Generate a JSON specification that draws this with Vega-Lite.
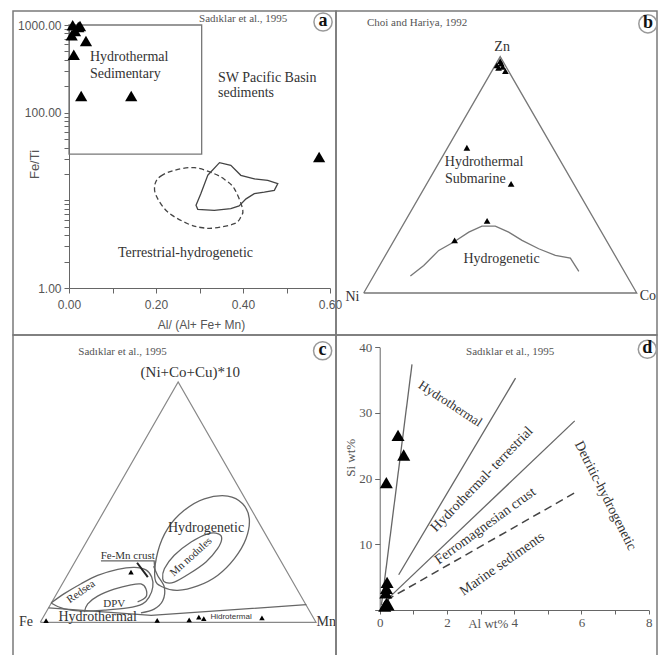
{
  "$schema": "https://vega.github.io/schema/vega-lite/v6.json",
  "padding": {"left": 12, "top": 9, "right": 0, "bottom": 0},
  "background": "white",
  "columns": 2,
  "spacing": 0,
  "bounds": "flush",
  "config": {
    "view": {"stroke": "#7a7a7a", "strokeWidth": 1.5},
    "axis": {"grid": false},
    "text": {"font": "Liberation Serif", "color": "#333"}
  },
  "datasets": {
    "a_box": [{"x": 0, "x2": 0.305, "y": 33.7, "y2": 1000}],
    "a_solid": [
      {"i": 0, "x": 0.319, "y": 19.3}, {"i": 1, "x": 0.346, "y": 26.9}, {"i": 2, "x": 0.372, "y": 25.1},
      {"i": 3, "x": 0.395, "y": 19.3}, {"i": 4, "x": 0.426, "y": 17.6}, {"i": 5, "x": 0.457, "y": 16.9},
      {"i": 6, "x": 0.48, "y": 15.5}, {"i": 7, "x": 0.472, "y": 13.0}, {"i": 8, "x": 0.449, "y": 12.4},
      {"i": 9, "x": 0.426, "y": 11.9}, {"i": 10, "x": 0.407, "y": 10.4}, {"i": 11, "x": 0.391, "y": 8.62},
      {"i": 12, "x": 0.372, "y": 8.03}, {"i": 13, "x": 0.334, "y": 7.69}, {"i": 14, "x": 0.296, "y": 7.9},
      {"i": 15, "x": 0.292, "y": 8.78}, {"i": 16, "x": 0.303, "y": 11.9}
    ],
    "a_dash": [
      {"i": 0, "x": 0.198, "y": 15.5}, {"i": 1, "x": 0.211, "y": 18.9}, {"i": 2, "x": 0.242, "y": 22.0},
      {"i": 3, "x": 0.288, "y": 23.6}, {"i": 4, "x": 0.334, "y": 20.1}, {"i": 5, "x": 0.359, "y": 17.1},
      {"i": 6, "x": 0.38, "y": 13.6}, {"i": 7, "x": 0.399, "y": 8.03}, {"i": 8, "x": 0.395, "y": 6.45},
      {"i": 9, "x": 0.38, "y": 5.41}, {"i": 10, "x": 0.334, "y": 4.83}, {"i": 11, "x": 0.303, "y": 4.9},
      {"i": 12, "x": 0.273, "y": 5.41}, {"i": 13, "x": 0.227, "y": 7.36}, {"i": 14, "x": 0.2, "y": 11.4}
    ],
    "a_pts": [
      {"x": 0.0085, "y": 992}, {"x": 0.0214, "y": 948}, {"x": 0.0138, "y": 853}, {"x": 0.0062, "y": 763},
      {"x": 0.0253, "y": 973}, {"x": 0.039, "y": 656}, {"x": 0.011, "y": 458}, {"x": 0.028, "y": 155},
      {"x": 0.143, "y": 155}, {"x": 0.575, "y": 31.2}
    ],
    "a_t14": [
      {"text": "Hydrothermal", "x": 0.048, "y": 431},
      {"text": "Sedimentary", "x": 0.048, "y": 276},
      {"text": "SW Pacific Basin", "x": 0.3425, "y": 248},
      {"text": "sediments", "x": 0.3425, "y": 167.6},
      {"text": "Terrestrial-hydrogenetic", "x": 0.1126, "y": 2.51}
    ],
    "a_ref": [{"text": "Sadıklar et al., 1995", "x": 0.299, "y": 1170}],
    "a_badge": [{"text": "a", "x": 0.584, "y": 1082}],
    "b_tri": [{"i": 0, "x": 0, "y": 0}, {"i": 1, "x": 1, "y": 0}, {"i": 2, "x": 0.5, "y": 0.866}, {"i": 3, "x": 0, "y": 0}],
    "b_hydro": [
      {"i": 0, "x": 0.171, "y": 0.062}, {"i": 1, "x": 0.22, "y": 0.101}, {"i": 2, "x": 0.275, "y": 0.156},
      {"i": 3, "x": 0.33, "y": 0.187}, {"i": 4, "x": 0.385, "y": 0.223}, {"i": 5, "x": 0.433, "y": 0.245},
      {"i": 6, "x": 0.482, "y": 0.245}, {"i": 7, "x": 0.531, "y": 0.223}, {"i": 8, "x": 0.58, "y": 0.193},
      {"i": 9, "x": 0.641, "y": 0.162}, {"i": 10, "x": 0.702, "y": 0.138}, {"i": 11, "x": 0.757, "y": 0.128},
      {"i": 12, "x": 0.788, "y": 0.079}
    ],
    "b_pts": [
      {"x": 0.488, "y": 0.834}, {"x": 0.5, "y": 0.849}, {"x": 0.509, "y": 0.828}, {"x": 0.519, "y": 0.813},
      {"x": 0.494, "y": 0.825}, {"x": 0.504, "y": 0.84}, {"x": 0.378, "y": 0.532}, {"x": 0.54, "y": 0.4},
      {"x": 0.452, "y": 0.264}, {"x": 0.333, "y": 0.193}
    ],
    "b_t14": [
      {"text": "Zn", "x": 0.507, "y": 0.901},
      {"text": "Ni", "x": -0.041, "y": -0.015},
      {"text": "Co", "x": 1.041, "y": -0.011},
      {"text": "Hydrothermal", "x": 0.441, "y": 0.48},
      {"text": "Submarine", "x": 0.409, "y": 0.416},
      {"text": "Hydrogenetic", "x": 0.505, "y": 0.123}
    ],
    "b_ref": [{"text": "Choi and Hariya, 1992", "x": 0.012, "y": 0.99}],
    "b_badge": [{"text": "b", "x": 1.041, "y": 0.986}],
    "c_tri": [{"i": 0, "x": 0, "y": 0}, {"i": 1, "x": 1, "y": 0}, {"i": 2, "x": 0.5, "y": 0.872}, {"i": 3, "x": 0, "y": 0}],
    "c_ell": [
      {"id": "hyd", "i": 0, "x": 0.416, "y": 0.158}, {"id": "hyd", "i": 1, "x": 0.426, "y": 0.255},
      {"id": "hyd", "i": 2, "x": 0.462, "y": 0.34}, {"id": "hyd", "i": 3, "x": 0.522, "y": 0.406},
      {"id": "hyd", "i": 4, "x": 0.595, "y": 0.448}, {"id": "hyd", "i": 5, "x": 0.68, "y": 0.458},
      {"id": "hyd", "i": 6, "x": 0.734, "y": 0.43}, {"id": "hyd", "i": 7, "x": 0.758, "y": 0.376},
      {"id": "hyd", "i": 8, "x": 0.746, "y": 0.303}, {"id": "hyd", "i": 9, "x": 0.704, "y": 0.231},
      {"id": "hyd", "i": 10, "x": 0.643, "y": 0.17}, {"id": "hyd", "i": 11, "x": 0.571, "y": 0.132},
      {"id": "hyd", "i": 12, "x": 0.498, "y": 0.116}, {"id": "hyd", "i": 13, "x": 0.444, "y": 0.128},
      {"id": "mn", "i": 0, "x": 0.444, "y": 0.158}, {"id": "mn", "i": 1, "x": 0.45, "y": 0.194},
      {"id": "mn", "i": 2, "x": 0.486, "y": 0.243}, {"id": "mn", "i": 3, "x": 0.547, "y": 0.291},
      {"id": "mn", "i": 4, "x": 0.607, "y": 0.321}, {"id": "mn", "i": 5, "x": 0.646, "y": 0.321},
      {"id": "mn", "i": 6, "x": 0.658, "y": 0.303}, {"id": "mn", "i": 7, "x": 0.643, "y": 0.267},
      {"id": "mn", "i": 8, "x": 0.601, "y": 0.219}, {"id": "mn", "i": 9, "x": 0.54, "y": 0.176},
      {"id": "mn", "i": 10, "x": 0.486, "y": 0.146}, {"id": "mn", "i": 11, "x": 0.456, "y": 0.144}
    ],
    "c_curves": [
      {"id": "red", "i": 0, "x": 0.039, "y": 0.07}, {"id": "red", "i": 1, "x": 0.087, "y": 0.104},
      {"id": "red", "i": 2, "x": 0.148, "y": 0.14}, {"id": "red", "i": 3, "x": 0.208, "y": 0.17},
      {"id": "red", "i": 4, "x": 0.281, "y": 0.192}, {"id": "red", "i": 5, "x": 0.341, "y": 0.199},
      {"id": "red", "i": 6, "x": 0.383, "y": 0.19}, {"id": "red", "i": 7, "x": 0.404, "y": 0.164},
      {"id": "red", "i": 8, "x": 0.408, "y": 0.128}, {"id": "red", "i": 9, "x": 0.395, "y": 0.092},
      {"id": "red", "i": 10, "x": 0.371, "y": 0.067}, {"id": "red", "i": 11, "x": 0.317, "y": 0.052},
      {"id": "red", "i": 12, "x": 0.232, "y": 0.044}, {"id": "red", "i": 13, "x": 0.16, "y": 0.041},
      {"id": "red", "i": 14, "x": 0.087, "y": 0.049}, {"id": "red", "i": 15, "x": 0.039, "y": 0.07},
      {"id": "dpv", "i": 0, "x": 0.16, "y": 0.037}, {"id": "dpv", "i": 1, "x": 0.172, "y": 0.067},
      {"id": "dpv", "i": 2, "x": 0.208, "y": 0.095}, {"id": "dpv", "i": 3, "x": 0.268, "y": 0.12},
      {"id": "dpv", "i": 4, "x": 0.329, "y": 0.136}, {"id": "dpv", "i": 5, "x": 0.365, "y": 0.139},
      {"id": "dpv", "i": 6, "x": 0.383, "y": 0.122}, {"id": "dpv", "i": 7, "x": 0.383, "y": 0.092},
      {"id": "dpv", "i": 8, "x": 0.353, "y": 0.074},
      {"id": "femn", "i": 0, "x": 0.411, "y": 0.203}, {"id": "femn", "i": 1, "x": 0.426, "y": 0.169},
      {"id": "femn", "i": 2, "x": 0.45, "y": 0.127}, {"id": "femn", "i": 3, "x": 0.444, "y": 0.078},
      {"id": "femn", "i": 4, "x": 0.413, "y": 0.048}, {"id": "femn", "i": 5, "x": 0.365, "y": 0.034}
    ],
    "c_straight": [
      {"id": "ul", "i": 0, "x": 0.22, "y": 0.223}, {"id": "ul", "i": 1, "x": 0.413, "y": 0.223},
      {"id": "ul", "i": 2, "x": 0.416, "y": 0.182},
      {"id": "hyl", "i": 0, "x": 0.03, "y": 0.052}, {"id": "hyl", "i": 1, "x": 0.402, "y": 0.025},
      {"id": "hyl", "i": 2, "x": 0.965, "y": 0.064}
    ],
    "c_slash": [{"i": 0, "x": 0.351, "y": 0.216}, {"i": 1, "x": 0.39, "y": 0.164}],
    "c_pts": [
      {"x": 0.021, "y": 0.006}, {"x": 0.424, "y": 0.007}, {"x": 0.54, "y": 0.009}, {"x": 0.575, "y": 0.019},
      {"x": 0.593, "y": 0.013}, {"x": 0.804, "y": 0.016}, {"x": 0.329, "y": 0.182}
    ],
    "c_ref": [{"text": "Sadıklar et al., 1995", "x": 0.138, "y": 0.979}],
    "c_t15": [{"text": "(Ni+Co+Cu)*10", "x": 0.544, "y": 0.907}],
    "c_t14": [
      {"text": "Fe", "x": -0.052, "y": 0.0},
      {"text": "Mn", "x": 1.037, "y": 0.0},
      {"text": "Hydrogenetic", "x": 0.601, "y": 0.343},
      {"text": "Hydrothermal", "x": 0.208, "y": 0.02}
    ],
    "c_t11": [
      {"text": "Fe-Mn crust", "x": 0.317, "y": 0.24},
      {"text": "DPV", "x": 0.268, "y": 0.067}
    ],
    "c_red": [{"text": "Redsea", "x": 0.148, "y": 0.11}],
    "c_mn": [{"text": "Mn nodules", "x": 0.547, "y": 0.237}],
    "c_hid": [{"text": "Hidrotermal", "x": 0.692, "y": 0.019}],
    "c_badge": [{"text": "c", "x": 1.024, "y": 0.985}],
    "d_lines": [
      {"id": "L1", "i": 0, "x": 0.05, "y": 0.7}, {"id": "L1", "i": 1, "x": 0.96, "y": 37.4},
      {"id": "L2", "i": 0, "x": 0.565, "y": 5.37}, {"id": "L2", "i": 1, "x": 4.04, "y": 35.3},
      {"id": "L3", "i": 0, "x": 0.2, "y": 1.5}, {"id": "L3", "i": 1, "x": 5.8, "y": 28.8}
    ],
    "d_dash": [{"i": 0, "x": 0.2, "y": 1.5}, {"i": 1, "x": 5.82, "y": 17.9}],
    "d_pts": [
      {"x": 0.545, "y": 26.6}, {"x": 0.714, "y": 23.6}, {"x": 0.197, "y": 19.4}, {"x": 0.22, "y": 4.2},
      {"x": 0.2, "y": 3.3}, {"x": 0.18, "y": 2.6}, {"x": 0.2, "y": 1.0}, {"x": 0.15, "y": 0.6}, {"x": 0.25, "y": 0.8}
    ],
    "d_ref": [{"text": "Sadıklar et al., 1995", "x": 3.88, "y": 39.3}],
    "d_t1": [{"text": "Hydrothermal", "x": 2.1, "y": 31.4}],
    "d_t2": [{"text": "Hydrothermal- terrestrial", "x": 3.04, "y": 19.9}],
    "d_t3": [{"text": "Ferromagnesian crust", "x": 3.14, "y": 12.8}],
    "d_t4": [{"text": "Marine sediments", "x": 3.64, "y": 7.0}],
    "d_t5": [{"text": "Detritic-hydrogenetic", "x": 6.71, "y": 17.4}],
    "d_badge": [{"text": "d", "x": 7.96, "y": 39.7}]
  },
  "concat": [
    {
      "width": 323,
      "height": 324,
      "encoding": {
        "x": {
          "field": "x", "type": "quantitative",
          "scale": {"domain": [0, 0.6], "range": [56, 317], "nice": false, "zero": false},
          "axis": {
            "orient": "bottom", "offset": -47,
            "values": [0, 0.1, 0.2, 0.3, 0.4, 0.5, 0.6],
            "labelExpr": "round(datum.value * 10) % 2 == 0 ? format(datum.value, '.2f') : ''",
            "labelFont": "Liberation Sans", "labelFontSize": 12, "labelColor": "#555",
            "labelPadding": 6, "labelFlush": false, "labelOverlap": false,
            "tickSize": 5, "tickColor": "#666", "domainColor": "#666",
            "title": "Al/ (Al+ Fe+ Mn)", "titleFont": "Liberation Sans", "titleFontSize": 12,
            "titleFontWeight": "normal", "titleColor": "#555",
            "titleX": 188, "titleY": 36, "titleBaseline": "middle", "titleAlign": "center"
          }
        },
        "y": {
          "field": "y", "type": "quantitative",
          "scale": {"type": "log", "domain": [1, 1000], "range": [277, 14], "nice": false},
          "axis": {
            "orient": "left", "offset": -56,
            "values": [1, 2, 3, 4, 5, 6, 7, 8, 9, 10, 20, 30, 40, 50, 60, 70, 80, 90, 100, 200, 300, 400, 500, 600, 700, 800, 900, 1000],
            "labelExpr": "(datum.value == 1 || datum.value == 100 || datum.value == 1000) ? format(datum.value, '.2f') : ''",
            "labelFont": "Liberation Sans", "labelFontSize": 12, "labelColor": "#555",
            "labelPadding": 3, "labelFlush": false, "labelOverlap": false,
            "tickSize": 5, "tickColor": "#666", "domainColor": "#666",
            "title": "Fe/Ti", "titleFont": "Liberation Sans", "titleFontSize": 13,
            "titleFontWeight": "normal", "titleColor": "#555",
            "titleX": -35, "titleY": 153, "titleAngle": -90, "titleBaseline": "middle", "titleAlign": "center"
          }
        }
      },
      "layer": [
        {"data": {"name": "a_box"}, "mark": {"type": "rect", "filled": false, "stroke": "#777", "strokeWidth": 1.3},
         "encoding": {"x2": {"field": "x2"}, "y2": {"field": "y2"}}},
        {"data": {"name": "a_solid"}, "mark": {"type": "line", "interpolate": "linear-closed", "color": "#444", "strokeWidth": 1.3},
         "encoding": {"order": {"field": "i", "type": "quantitative"}}},
        {"data": {"name": "a_dash"}, "mark": {"type": "line", "interpolate": "cardinal-closed", "color": "#444", "strokeWidth": 1.3, "strokeDash": [5, 3]},
         "encoding": {"order": {"field": "i", "type": "quantitative"}}},
        {"data": {"name": "a_pts"}, "mark": {"type": "point", "shape": "triangle-up", "filled": true, "color": "#000", "size": 150, "opacity": 1}},
        {"data": {"name": "a_t14"}, "mark": {"type": "text", "fontSize": 14, "align": "left", "baseline": "middle"},
         "encoding": {"text": {"field": "text"}}},
        {"data": {"name": "a_ref"}, "mark": {"type": "text", "fontSize": 11, "align": "left", "baseline": "middle", "color": "#555"},
         "encoding": {"text": {"field": "text"}}},
        {"data": {"name": "a_badge"}, "mark": {"type": "point", "shape": "circle", "filled": false, "stroke": "#999", "strokeWidth": 1.5, "size": 330, "opacity": 1}},
        {"data": {"name": "a_badge"}, "mark": {"type": "text", "fontSize": 18, "fontWeight": "bold", "align": "center", "baseline": "middle", "color": "#111", "dy": -1},
         "encoding": {"text": {"field": "text"}}}
      ]
    },
    {
      "width": 321,
      "height": 324,
      "encoding": {
        "x": {"field": "x", "type": "quantitative", "scale": {"domain": [0, 1], "range": [27.7, 300.7], "nice": false, "zero": false}, "axis": null},
        "y": {"field": "y", "type": "quantitative", "scale": {"domain": [0, 1], "range": [282, 9], "nice": false, "zero": false}, "axis": null}
      },
      "layer": [
        {"data": {"name": "b_tri"}, "mark": {"type": "line", "color": "#777", "strokeWidth": 1.3},
         "encoding": {"order": {"field": "i", "type": "quantitative"}}},
        {"data": {"name": "b_hydro"}, "mark": {"type": "line", "color": "#777", "strokeWidth": 1.3},
         "encoding": {"order": {"field": "i", "type": "quantitative"}}},
        {"data": {"name": "b_pts"}, "mark": {"type": "point", "shape": "triangle-up", "filled": true, "color": "#000", "size": 45, "opacity": 1}},
        {"data": {"name": "b_t14"}, "mark": {"type": "text", "fontSize": 14, "align": "center", "baseline": "middle"},
         "encoding": {"text": {"field": "text"}}},
        {"data": {"name": "b_ref"}, "mark": {"type": "text", "fontSize": 11, "align": "left", "baseline": "middle", "color": "#555"},
         "encoding": {"text": {"field": "text"}}},
        {"data": {"name": "b_badge"}, "mark": {"type": "point", "shape": "circle", "filled": false, "stroke": "#999", "strokeWidth": 1.5, "size": 330, "opacity": 1}},
        {"data": {"name": "b_badge"}, "mark": {"type": "text", "fontSize": 18, "fontWeight": "bold", "align": "center", "baseline": "middle", "color": "#111", "dy": -1},
         "encoding": {"text": {"field": "text"}}}
      ]
    },
    {
      "width": 323,
      "height": 323,
      "encoding": {
        "x": {"field": "x", "type": "quantitative", "scale": {"domain": [0, 1], "range": [27.3, 303], "nice": false, "zero": false}, "axis": null},
        "y": {"field": "y", "type": "quantitative", "scale": {"domain": [0, 1], "range": [287.3, 11.6], "nice": false, "zero": false}, "axis": null}
      },
      "layer": [
        {"data": {"name": "c_tri"}, "mark": {"type": "line", "color": "#888", "strokeWidth": 1.2},
         "encoding": {"order": {"field": "i", "type": "quantitative"}}},
        {"data": {"name": "c_ell"}, "mark": {"type": "line", "interpolate": "cardinal-closed", "color": "#666", "strokeWidth": 1.3},
         "encoding": {"detail": {"field": "id"}, "order": {"field": "i", "type": "quantitative"}}},
        {"data": {"name": "c_curves"}, "mark": {"type": "line", "interpolate": "cardinal", "color": "#666", "strokeWidth": 1.3},
         "encoding": {"detail": {"field": "id"}, "order": {"field": "i", "type": "quantitative"}}},
        {"data": {"name": "c_straight"}, "mark": {"type": "line", "color": "#666", "strokeWidth": 1.3},
         "encoding": {"detail": {"field": "id"}, "order": {"field": "i", "type": "quantitative"}}},
        {"data": {"name": "c_slash"}, "mark": {"type": "line", "color": "#222", "strokeWidth": 2},
         "encoding": {"order": {"field": "i", "type": "quantitative"}}},
        {"data": {"name": "c_pts"}, "mark": {"type": "point", "shape": "triangle-up", "filled": true, "color": "#000", "size": 30, "opacity": 1}},
        {"data": {"name": "c_ref"}, "mark": {"type": "text", "fontSize": 11, "align": "left", "baseline": "middle", "color": "#555"},
         "encoding": {"text": {"field": "text"}}},
        {"data": {"name": "c_t15"}, "mark": {"type": "text", "fontSize": 15, "align": "center", "baseline": "middle"},
         "encoding": {"text": {"field": "text"}}},
        {"data": {"name": "c_t14"}, "mark": {"type": "text", "fontSize": 14, "align": "center", "baseline": "middle"},
         "encoding": {"text": {"field": "text"}}},
        {"data": {"name": "c_t11"}, "mark": {"type": "text", "fontSize": 11, "align": "center", "baseline": "middle"},
         "encoding": {"text": {"field": "text"}}},
        {"data": {"name": "c_red"}, "mark": {"type": "text", "fontSize": 11, "align": "center", "baseline": "middle", "angle": 325},
         "encoding": {"text": {"field": "text"}}},
        {"data": {"name": "c_mn"}, "mark": {"type": "text", "fontSize": 11, "align": "center", "baseline": "middle", "angle": 318},
         "encoding": {"text": {"field": "text"}}},
        {"data": {"name": "c_hid"}, "mark": {"type": "text", "fontSize": 8, "font": "Liberation Sans", "align": "center", "baseline": "middle"},
         "encoding": {"text": {"field": "text"}}},
        {"data": {"name": "c_badge"}, "mark": {"type": "point", "shape": "circle", "filled": false, "stroke": "#999", "strokeWidth": 1.5, "size": 330, "opacity": 1}},
        {"data": {"name": "c_badge"}, "mark": {"type": "text", "fontSize": 18, "fontWeight": "bold", "align": "center", "baseline": "middle", "color": "#111", "dy": -1},
         "encoding": {"text": {"field": "text"}}}
      ]
    },
    {
      "width": 321,
      "height": 323,
      "encoding": {
        "x": {
          "field": "x", "type": "quantitative",
          "scale": {"domain": [0, 8], "range": [43.7, 312.7], "nice": false, "zero": false},
          "axis": {
            "orient": "bottom", "offset": -48,
            "values": [0, 1, 2, 3, 4, 5, 6, 7, 8],
            "labelExpr": "datum.value % 2 == 0 ? datum.label : ''",
            "labelFont": "Liberation Serif", "labelFontSize": 13, "labelColor": "#555",
            "labelPadding": 2, "labelFlush": false, "labelOverlap": false,
            "tickSize": 4, "tickColor": "#666", "domainColor": "#666",
            "title": "Al wt%", "titleFont": "Liberation Serif", "titleFontSize": 13,
            "titleFontWeight": "normal", "titleColor": "#555",
            "titleX": 151.7, "titleY": 13, "titleBaseline": "middle", "titleAlign": "center"
          }
        },
        "y": {
          "field": "y", "type": "quantitative",
          "scale": {"domain": [0, 40], "range": [275, 12.3], "nice": false, "zero": false},
          "axis": {
            "orient": "left", "offset": -43.7,
            "values": [0, 10, 20, 30, 40],
            "labelExpr": "datum.value == 0 ? '' : datum.label",
            "labelFont": "Liberation Serif", "labelFontSize": 13, "labelColor": "#555",
            "labelPadding": 3, "labelFlush": false, "labelOverlap": false,
            "tickSize": 5, "tickColor": "#666", "domainColor": "#666",
            "title": "Si wt%", "titleFont": "Liberation Serif", "titleFontSize": 13,
            "titleFontWeight": "normal", "titleColor": "#555",
            "titleX": -29.4, "titleY": 122.3, "titleAngle": -90, "titleBaseline": "middle", "titleAlign": "center"
          }
        }
      },
      "layer": [
        {"data": {"name": "d_lines"}, "mark": {"type": "line", "color": "#666", "strokeWidth": 1.3},
         "encoding": {"detail": {"field": "id"}, "order": {"field": "i", "type": "quantitative"}}},
        {"data": {"name": "d_dash"}, "mark": {"type": "line", "color": "#444", "strokeWidth": 1.5, "strokeDash": [8, 5]},
         "encoding": {"order": {"field": "i", "type": "quantitative"}}},
        {"data": {"name": "d_pts"}, "mark": {"type": "point", "shape": "triangle-up", "filled": true, "color": "#000", "size": 170, "opacity": 1}},
        {"data": {"name": "d_ref"}, "mark": {"type": "text", "fontSize": 11, "align": "center", "baseline": "middle", "color": "#555"},
         "encoding": {"text": {"field": "text"}}},
        {"data": {"name": "d_t1"}, "mark": {"type": "text", "fontSize": 13, "align": "center", "baseline": "middle", "angle": 33},
         "encoding": {"text": {"field": "text"}}},
        {"data": {"name": "d_t2"}, "mark": {"type": "text", "fontSize": 14, "align": "center", "baseline": "middle", "angle": 314},
         "encoding": {"text": {"field": "text"}}},
        {"data": {"name": "d_t3"}, "mark": {"type": "text", "fontSize": 14, "align": "center", "baseline": "middle", "angle": 324},
         "encoding": {"text": {"field": "text"}}},
        {"data": {"name": "d_t4"}, "mark": {"type": "text", "fontSize": 14, "align": "center", "baseline": "middle", "angle": 325},
         "encoding": {"text": {"field": "text"}}},
        {"data": {"name": "d_t5"}, "mark": {"type": "text", "fontSize": 14, "align": "center", "baseline": "middle", "angle": 63},
         "encoding": {"text": {"field": "text"}}},
        {"data": {"name": "d_badge"}, "mark": {"type": "point", "shape": "circle", "filled": false, "stroke": "#999", "strokeWidth": 1.5, "size": 330, "opacity": 1}},
        {"data": {"name": "d_badge"}, "mark": {"type": "text", "fontSize": 18, "fontWeight": "bold", "align": "center", "baseline": "middle", "color": "#111", "dy": -1},
         "encoding": {"text": {"field": "text"}}}
      ]
    }
  ]
}
